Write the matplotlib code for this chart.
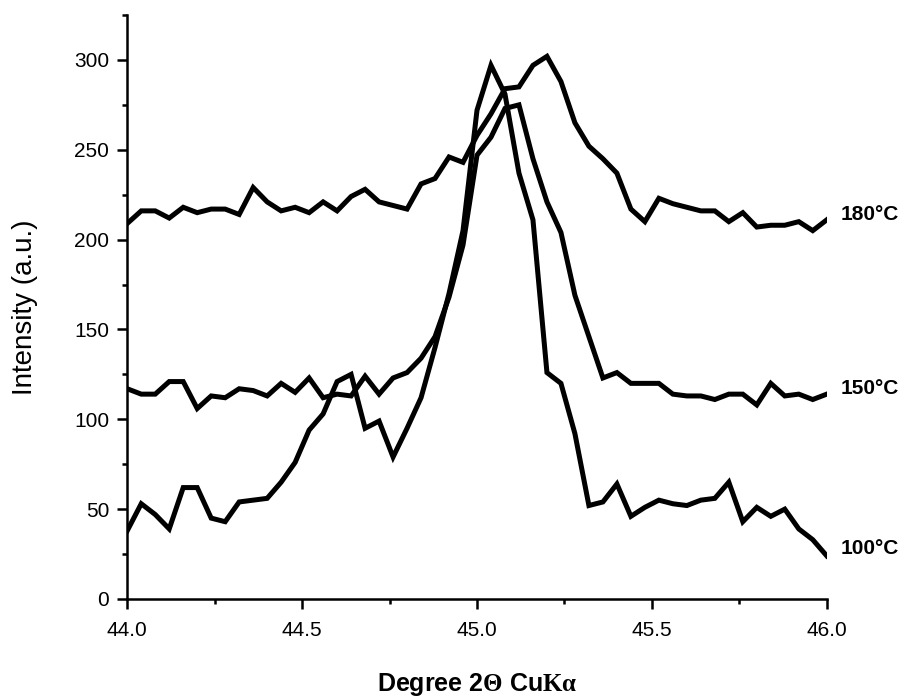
import matplotlib
matplotlib.use("Agg")
import matplotlib.pyplot as plt
from matplotlib.ticker import MultipleLocator

# 2-theta positions, step 0.04 from 44.0 to 46.0
two_theta = [44.00 + 0.04 * i for i in range(51)]

int_100 = [38, 53, 47, 39, 62, 62, 45, 43, 54, 55,
           56, 65, 76, 94, 103, 121, 125, 95, 99, 79,
           95, 112, 140, 170, 205, 272, 297, 281, 237, 211,
           126, 120, 92, 52, 54, 64, 46, 51, 55, 53,
           52, 55, 56, 65, 43, 51, 46, 50, 39, 33, 24]

int_150 = [117, 114, 114, 121, 121, 106, 113, 112, 117, 116,
           113, 120, 115, 123, 112, 114, 113, 124, 114, 123,
           126, 134, 146, 168, 197, 247, 257, 273, 275, 245,
           221, 204, 169, 146, 123, 126, 120, 120, 120, 114,
           113, 113, 111, 114, 114, 108, 120, 113, 114, 111, 114]

int_180 = [209, 216, 216, 212, 218, 215, 217, 217, 214, 229,
           221, 216, 218, 215, 221, 216, 224, 228, 221, 219,
           217, 231, 234, 246, 243, 258, 270, 284, 285, 297,
           302, 288, 265, 252, 245, 237, 217, 210, 223, 220,
           218, 216, 216, 210, 215, 207, 208, 208, 210, 205, 211]

series = [("100°C", int_100), ("150°C", int_150), ("180°C", int_180)]
label_offset = {"100°C": 4, "150°C": 3, "180°C": 3}

plt.rcParams['font.family'] = ['Liberation Sans', 'DejaVu Sans']
plt.rcParams['mathtext.fontset'] = 'custom'
plt.rcParams['mathtext.rm'] = 'Liberation Serif:bold'
plt.rcParams['mathtext.bf'] = 'Liberation Sans:bold'

fig = plt.figure(figsize=(9, 6.99), dpi=100)
ax = fig.add_axes([0.1414, 0.1431, 0.7772, 0.8354])

for name, vals in series:
    ax.plot(two_theta, vals, color='black', lw=3.6, solid_joinstyle='miter')
    ax.text(46.04, vals[-1] + label_offset[name], name, fontsize=15, fontweight='bold',
            va='center', ha='left', clip_on=False)

ax.set_xlim(44, 46)
ax.set_ylim(0, 325)
ax.xaxis.set_major_locator(MultipleLocator(0.5))
ax.xaxis.set_minor_locator(MultipleLocator(0.25))
ax.yaxis.set_major_locator(MultipleLocator(50))
ax.yaxis.set_minor_locator(MultipleLocator(25))
ax.xaxis.set_major_formatter(plt.FormatStrFormatter('%.1f'))

for s in ['top', 'right']:
    ax.spines[s].set_visible(False)
for s in ['left', 'bottom']:
    ax.spines[s].set_linewidth(1.8)

ax.tick_params(which='major', direction='out', length=7, width=1.8, labelsize=15, pad=6)
ax.tick_params(axis='x', which='major', pad=9)
ax.tick_params(which='minor', direction='out', length=3.5, width=1.8)

ax.set_ylabel("Intensity (a.u.)", fontsize=20)
ax.yaxis.set_label_coords(-0.128, 0.5)
ax.set_xlabel(r"Degree 2$\mathrm{\Theta}$ Cu$\mathrm{K\alpha}$", fontsize=18,
              fontweight='bold', labelpad=22)

fig.savefig("out.png", dpi=100)
